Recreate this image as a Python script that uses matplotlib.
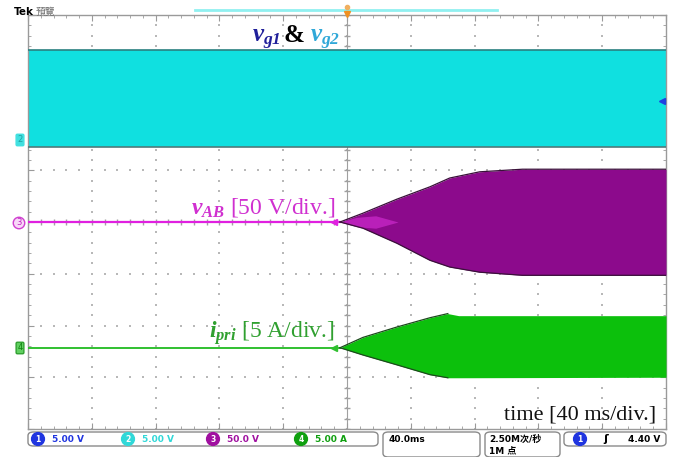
import numpy as np
import matplotlib.pyplot as plt
from matplotlib.patches import FancyBboxPatch

plt.rcParams['mathtext.fontset'] = 'custom'
plt.rcParams['mathtext.it'] = 'Liberation Serif:italic:bold'
plt.rcParams['mathtext.rm'] = 'Liberation Serif:italic:bold'

# screen: 10 x 8 divisions, time 0 at the centre
t_span = [-5.0, 5.0]

# gate signals (ch1/ch2): switching band, levels in div
vg_low = [1.45, 1.45]
vg_high = [3.32, 3.32]

# vAB envelope (ch3, 50 V/div), time in div
t_ab = [-0.11, 0.25, 0.78, 1.30, 1.61, 2.08, 2.75, 5.0]
ab_upper = [0.0, 0.17, 0.44, 0.68, 0.85, 0.97, 1.02, 1.02]
ab_lower = [0.0, -0.12, -0.41, -0.74, -0.87, -0.97, -1.03, -1.03]
t_ab_inner = [-0.11, 0.15, 0.45, 0.8]
ab_inner = [0.0, 0.09, 0.12, 0.0]

# primary current envelope (ch4, 5 A/div)
pri_zero = -2.43
t_pri = [-0.11, 0.25, 0.78, 1.30, 1.58, 1.75, 5.0]
pri_upper = [0.0, 0.20, 0.40, 0.58, 0.66, 0.62, 0.62]
pri_lower = [0.0, -0.14, -0.33, -0.52, -0.58, -0.58, -0.57]

W, H = 676, 457
fig = plt.figure(figsize=(W / 100, H / 100), dpi=100)


def fx(px):
    return px / W


def fy(py):
    return 1 - py / H


ax = fig.add_axes([fx(28), fy(429), fx(666) - fx(28), fy(15) - fy(429)])
ax.set_xlim(-5, 5)
ax.set_ylim(-4, 4)
for s in ax.spines.values():
    s.set_color('#9a9a9a')
    s.set_linewidth(1.0)
ax.set_xticks(np.arange(-5, 5.01, 1))
ax.set_yticks(np.arange(-4, 4.01, 1))
ax.set_xticks(np.arange(-5, 5.01, 0.2), minor=True)
ax.set_yticks(np.arange(-4, 4.01, 0.2), minor=True)
ax.tick_params(which='both', direction='in', top=True, right=True,
               labelbottom=False, labelleft=False, color='#9a9a9a')
ax.tick_params(which='major', length=4)
ax.tick_params(which='minor', length=2)

# dotted graticule
gx, gy = [], []
for xv in range(-4, 5):
    for yv in np.arange(-4, 4.01, 0.2):
        gx.append(xv)
        gy.append(yv)
for yv in range(-3, 4):
    for xv in np.arange(-5, 5.01, 0.2):
        gx.append(xv)
        gy.append(yv)
ax.scatter(gx, gy, s=1.2, color='#b8b8b8', marker='s', linewidths=0, zorder=1)
ax.axvline(0, color='#a0a0a0', lw=0.8, zorder=1)
cy = np.arange(-4, 4.01, 0.2)
ax.plot(np.zeros_like(cy), cy, '_', color='#a0a0a0', ms=5, zorder=1)
cx = np.arange(-5, 5.01, 0.2)
ax.plot(cx, np.zeros_like(cx), '|', color='#a0a0a0', ms=5, zorder=1)

# gate signals
ax.fill_between(t_span, vg_low, vg_high, color='#10e0e0', lw=0, zorder=2)
ax.plot(t_span, vg_high, color='#2a8080', lw=1.2, zorder=3)
ax.plot(t_span, vg_low, color='#507a7a', lw=1.2, zorder=3)

# vAB
ax.plot([-5, t_ab[0]], [0, 0], color='#e020e0', lw=1.6, zorder=3)
ax.fill_between(t_ab, ab_lower, ab_upper, color='#8c0a8c', lw=0, zorder=3)
ax.fill_between(t_ab_inner, [-v for v in ab_inner], ab_inner, color='#d830d8',
                lw=0, alpha=0.6, zorder=3)
ax.plot(t_ab, ab_upper, color='#3a103a', lw=0.9, zorder=4)
ax.plot(t_ab, ab_lower, color='#3a103a', lw=0.9, zorder=4)
ax.plot([-0.2], [0], marker='<', color='#e020e0', ms=5, zorder=4)

# i_pri
pu = [pri_zero + v for v in pri_upper]
pl = [pri_zero + v for v in pri_lower]
ax.plot([-5, t_pri[0]], [pri_zero, pri_zero], color='#30c030', lw=1.4, zorder=3)
ax.fill_between(t_pri, pl, pu, color='#0cc00c', lw=0, zorder=3)
ax.plot(t_pri[:5], pu[:5], color='#1c4a1c', lw=0.9, zorder=4)
ax.plot(t_pri[:5], pl[:5], color='#1c4a1c', lw=0.9, zorder=4)
ax.plot([-0.2], [pri_zero], marker='<', color='#30c030', ms=5, zorder=4)

# trigger level marker
ax.plot([4.93], [2.34], marker='<', color='#2040e0', ms=4, zorder=5, clip_on=False)

# trace labels
serif = 'Liberation Serif'
ax.text(-1.49, 3.48, r'$v_{g1}$', color='#20209a', fontsize=18, zorder=6)
ax.text(-1.0, 3.48, '&', color='black', fontsize=18, fontweight='bold',
        family=serif, zorder=6)
ax.text(-0.58, 3.48, r'$v_{g2}$', color='#30a8d8', fontsize=18, zorder=6)
ax.text(-0.19, 0.17, r'$v_{AB}$ [50 V/div.]', color='#d030d0', fontsize=17,
        family=serif, ha='right', zorder=6)
ax.text(-0.19, -2.24, r'$i_{pri}$ [5 A/div.]', color='#30a030', fontsize=17,
        family=serif, ha='right', zorder=6)
ax.text(4.85, -3.81, 'time [40 ms/div.]', color='#111111', fontsize=16,
        family=serif, ha='right', zorder=6)

# header
fig.text(fx(14), fy(12), 'Tek', fontsize=7.5, fontweight='bold', va='center')
fig.text(fx(36), fy(12), '預覽', fontsize=7, color='#707070', va='center',
         family=['Noto Sans CJK TC', 'DejaVu Sans'])
fig.add_artist(plt.Line2D([fx(195), fx(497)], [fy(10), fy(10)], color='#90f0f0', lw=2))
fig.add_artist(plt.Line2D([fx(347)], [fy(7)], marker='o', color='#f0b060', ms=3))
fig.add_artist(plt.Line2D([fx(347)], [fy(14)], marker='v', color='#f09020', ms=4))

# channel ground markers on the left
fig.text(fx(20), fy(140), '2', fontsize=6, color='#20a0a0', ha='center', va='center',
         bbox=dict(boxstyle='round,pad=0.15', fc='#40e0e0', ec='#40e0e0'))
fig.text(fx(19), fy(223), '3', fontsize=6, color='#c020c0', ha='center', va='center',
         bbox=dict(boxstyle='circle,pad=0.15', fc='#f8d8f8', ec='#d040d0'))
fig.text(fx(20), fy(348), '4', fontsize=6, color='#108010', ha='center', va='center',
         bbox=dict(boxstyle='round,pad=0.15', fc='#60d060', ec='#30a030'))

# status bar
boxes = [(28, 432, 378, 446), (383, 432, 480, 457), (485, 432, 560, 457), (564, 432, 666, 446)]
for x0, y0, x1, y1 in boxes:
    fig.add_artist(FancyBboxPatch((fx(x0), fy(y1)), fx(x1) - fx(x0), fy(y0) - fy(y1),
                                  boxstyle='round,pad=0,rounding_size=0.008',
                                  transform=fig.transFigure, fc='white',
                                  ec='#8a8a8a', lw=1))

ch_nums = ['1', '2', '3', '4']
ch_scales = ['5.00 V', '5.00 V', '50.0 V', '5.00 A']
ch_colors = ['#2035e0', '#30d8d8', '#a010a0', '#10a010']
ch_x = [38, 128, 213, 301]
for n, lab, c, x in zip(ch_nums, ch_scales, ch_colors, ch_x):
    fig.text(fx(x), fy(439), n, fontsize=5.5, color='white', fontweight='bold',
             ha='center', va='center',
             bbox=dict(boxstyle='circle,pad=0.25', fc=c, ec=c))
    fig.text(fx(x + 14), fy(439), lab, fontsize=6.5, color=c, fontweight='bold',
             va='center')

fig.text(fx(389), fy(439), '40.0ms', fontsize=6.5, fontweight='bold', va='center')
fig.text(fx(489), fy(439), '2.50M次/秒', fontsize=6.5, fontweight='bold', va='center',
         family=['DejaVu Sans', 'Noto Sans CJK SC'])
fig.text(fx(489), fy(451), '1M 点', fontsize=6.5, fontweight='bold', va='center',
         family=['DejaVu Sans', 'Noto Sans CJK SC'])
fig.text(fx(580), fy(439), '1', fontsize=5.5, color='white', fontweight='bold',
         ha='center', va='center',
         bbox=dict(boxstyle='circle,pad=0.25', fc='#2035e0', ec='#2035e0'))
fig.text(fx(603), fy(439), 'ʃ', fontsize=8, fontweight='bold', va='center')
fig.text(fx(628), fy(439), '4.40 V', fontsize=6.5, fontweight='bold', va='center')

fig.savefig('out.png', dpi=100)
